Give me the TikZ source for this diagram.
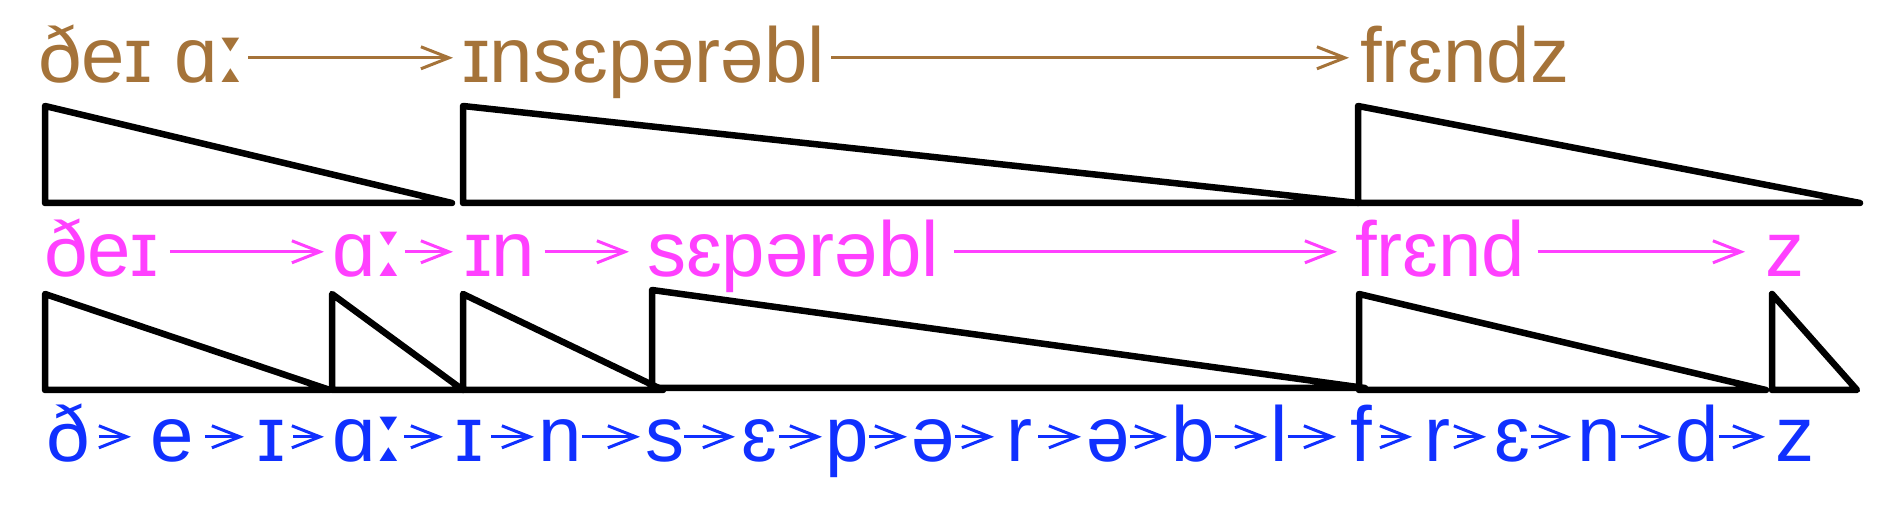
\documentclass[tikz,border=0pt]{standalone}
\usepackage{fontspec}
\setmainfont{Liberation Sans}
\newfontfamily\lenfont{DejaVu Sans}
\newcommand{\lng}{\kern-1pt{\lenfont\scalebox{1.3}[1.1]{ː}}\kern-6pt}
\usepackage{xcolor}
\usepackage{tikz}
\usetikzlibrary{arrows.meta}
\definecolor{ipaBrown}{RGB}{165,115,57}
\definecolor{ipaPink}{RGB}{255,64,255}
\definecolor{ipaBlue}{RGB}{16,48,255}

\begin{document}
\begin{tikzpicture}[x=1pt,y=-1pt,
  lbl/.style={anchor=south west,inner sep=0pt,text height=50pt,text depth=0pt,
              font=\fontsize{78}{90}\selectfont,text=#1},
  arrow/.style={-{Straight Barb[length=28pt,width=22pt]},line width=3pt,color=#1},
  tri/.style={line width=6.5pt,line join=round,line cap=round}
]
\useasboundingbox (0,0) rectangle (1888,518);
% Words
\node[lbl=ipaBrown] (w1) at (38,83) {ðeɪ ɑ\lng};
\node[lbl=ipaBrown] (w2) at (462,83) {ɪnsɛpərəbl};
\node[lbl=ipaBrown] (w3) at (1360,83) {frɛndz};
\draw[arrow=ipaBrown,shorten <=3pt,shorten >=9pt] (w1) -- (w2);
\draw[arrow=ipaBrown,shorten <=6pt,shorten >=11pt] (w2) -- (w3);
% Word triangles
\draw[tri] (45,106) -- (45,203) -- (452,203) -- cycle;
\draw[tri] (463,106) -- (463,203) -- (1358,203) -- cycle;
\draw[tri] (1358,106) -- (1358,203) -- (1860,203) -- cycle;
% Syllables
\node[lbl=ipaPink] (s1) at (44,277) {ðeɪ};
\node[lbl=ipaPink] (s2) at (332,277) {ɑ\lng};
\node[lbl=ipaPink] (s3) at (464,277) {ɪn};
\node[lbl=ipaPink] (s4) at (647,277) {sɛpərəbl};
\node[lbl=ipaPink] (s5) at (1355,277) {frɛnd};
\node[lbl=ipaPink] (s6) at (1765,277) {z};
\foreach \a/\b/\s/\e in {s1/s2/11/8,s2/s3/2/11,s3/s4/9/18,s4/s5/15/18,s5/s6/12/20}
  \draw[arrow=ipaPink,shorten <=\s pt,shorten >=\e pt] (\a) -- (\b);
% Syllable triangles
\draw[tri] (45,294) -- (45,390) -- (330,390) -- cycle;
\draw[tri] (332,294) -- (332,390) -- (463,390) -- cycle;
\draw[tri] (463,294) -- (463,390) -- (663,390) -- cycle;
\draw[tri] (652,290) -- (652,388) -- (1365,388) -- cycle;
\draw[tri] (1359,294) -- (1359,390) -- (1766,390) -- cycle;
\draw[tri] (1772,294) -- (1772,390) -- (1857,390) -- cycle;
% Phones
\foreach \n/\x/\t in {p1/46/ð,p2/150/e,p3/257/ɪ,p4/332/ɑ\lng,p5/455/ɪ,p6/538/n,
                      p7/645/s,p8/741/ɛ,p9/825/p,p10/911/ə,p11/1006/r,p12/1086/ə,
                      p13/1171/b,p14/1270/l,p15/1350/f,p16/1424/r,p17/1494/ɛ,
                      p18/1577/n,p19/1675/d,p20/1775/z}
  \node[lbl=ipaBlue] (\n) at (\x,462) {\t};
\foreach \a/\b/\s/\e in {p1/p2/9/19,p2/p3/11/13,p3/p4/8/8,p4/p5/1/12,p5/p6/8/4,
                         p6/p7/0/5,p7/p8/0/6,p8/p9/2/3,p9/p10/0/4,p10/p11/0/12,
                         p11/p12/6/5,p12/p13/0/4,p13/p14/0/3,p14/p15/0/14,
                         p15/p16/9/12,p16/p17/7/8,p17/p18/1/6,p18/p19/0/4,p19/p20/0/10}
  \draw[arrow=ipaBlue,shorten <=\s pt,shorten >=\e pt] (\a) -- (\b);
\end{tikzpicture}
\end{document}
